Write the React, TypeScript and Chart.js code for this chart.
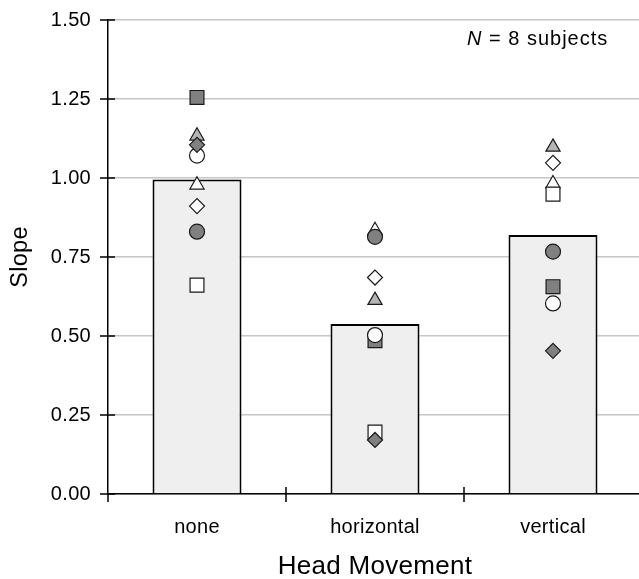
import { useEffect, useRef } from "react";
import { Chart, registerables } from "chart.js";

Chart.register(...registerables);

const categories = ["none", "horizontal", "vertical"];
const meanSlope = [0.995, 0.538, 0.82];
const yTicks = [0, 0.25, 0.5, 0.75, 1.0, 1.25, 1.5];

const subjWhiteSquare = [0.661, 0.196, 0.949];
const subjGraySquare = [1.255, 0.485, 0.656];
const subjWhiteCircle = [1.071, 0.503, 0.603];
const subjGrayCircle = [0.83, 0.814, 0.767];
const subjWhiteDiamond = [0.911, 0.685, 1.048];
const subjGrayDiamond = [1.105, 0.171, 0.453];
const subjWhiteTriangle = [0.978, 0.834, 0.982];
const subjGrayTriangle = [1.133, 0.613, 1.098];

const xTitle = "Head Movement";
const yTitle = "Slope";
const noteItalic = "N";
const noteRest = " = 8 subjects";

const FONT = '"Liberation Sans", Arial, Helvetica, sans-serif';
const SPACING = "0.3px";

function subject(data: number[], style: string, fill: string, radius: number, order: number) {
  return {
    type: "line" as const,
    data,
    showLine: false,
    pointStyle: style,
    pointRadius: radius,
    pointHoverRadius: radius,
    pointBackgroundColor: fill,
    pointBorderColor: "#1a1a1a",
    pointBorderWidth: 1.2,
    order,
  };
}

function zeroPad(s: any) {
  s.paddingTop = 0;
  s.paddingBottom = 0;
  s.paddingLeft = 0;
  s.paddingRight = 0;
}

const decor = {
  id: "decor",
  beforeUpdate(chart: any) {
    chart.ctx.letterSpacing = SPACING;
  },
  beforeDraw(chart: any) {
    chart.ctx.letterSpacing = SPACING;
  },
  afterDraw(chart: any) {
    const ctx = chart.ctx;
    const xs = chart.scales.x;
    const ys = chart.scales.y;
    const { left, bottom } = chart.chartArea;
    ctx.save();
    ctx.strokeStyle = "#000";
    ctx.lineWidth = 1.5;
    ctx.beginPath();
    yTicks.forEach((v) => {
      const py = Math.round(ys.getPixelForValue(v));
      ctx.moveTo(left - 8, py);
      ctx.lineTo(left + 7, py);
    });
    ctx.moveTo(left, bottom);
    ctx.lineTo(left, bottom + 8);
    const step = xs.getPixelForValue(1) - xs.getPixelForValue(0);
    for (let i = 1; i < categories.length; i++) {
      const px = Math.round(xs.getPixelForValue(i) - step / 2);
      ctx.moveTo(px, bottom - 7);
      ctx.lineTo(px, bottom + 8);
    }
    ctx.stroke();

    ctx.letterSpacing = "1px";
    ctx.fillStyle = "#000";
    ctx.textAlign = "left";
    ctx.textBaseline = "alphabetic";
    ctx.font = `italic 20px ${FONT}`;
    const nx = 467;
    ctx.fillText(noteItalic, nx, 45);
    const w = ctx.measureText(noteItalic).width;
    ctx.font = `20px ${FONT}`;
    ctx.fillText(noteRest, nx + w, 45);
    ctx.restore();
  },
};

export default function App() {
  const ref = useRef<HTMLCanvasElement | null>(null);

  useEffect(() => {
    if (!ref.current) return;
    Chart.defaults.font.family = FONT;
    Chart.defaults.color = "#000";
    const chart = new Chart(ref.current, {
      type: "bar",
      data: {
        labels: categories,
        datasets: [
          subject(subjGrayDiamond, "rectRot", "#808080", 7.5, 1),
          subject(subjWhiteDiamond, "rectRot", "#ffffff", 7.5, 1),
          subject(subjGrayCircle, "circle", "#808080", 7.5, 2),
          subject(subjWhiteCircle, "circle", "#ffffff", 7.5, 2),
          subject(subjGraySquare, "rect", "#808080", 9.8, 3),
          subject(subjWhiteSquare, "rect", "#ffffff", 9.8, 3),
          subject(subjGrayTriangle, "triangle", "#b4b4b4", 8.2, 4),
          subject(subjWhiteTriangle, "triangle", "#ffffff", 8.2, 4),
          {
            type: "bar" as const,
            data: meanSlope,
            backgroundColor: "#efefef",
            borderColor: "#000",
            borderWidth: 2,
            barPercentage: 0.5,
            categoryPercentage: 1.0,
            order: 10,
          } as any,
        ],
      },
      options: {
        animation: false,
        responsive: false,
        events: [],
        layout: { padding: { top: 20, right: 0, bottom: 0, left: 0 } },
        plugins: {
          legend: { display: false },
          tooltip: { enabled: false },
        },
        scales: {
          x: {
            type: "category",
            offset: true,
            grid: { display: false, drawTicks: false },
            border: { display: true, color: "#000", width: 1.5 },
            ticks: { padding: 21, font: { size: 20 }, color: "#000", maxRotation: 0 },
            title: {
              display: true,
              text: xTitle,
              font: { size: 26 },
              color: "#000",
              padding: { top: 0, bottom: -3 },
            },
            afterFit: (s: any) => {
              s.height = 85;
              zeroPad(s);
            },
          },
          y: {
            type: "linear",
            min: 0,
            max: 1.5,
            grid: { color: "#c6c6c6", lineWidth: 1.5, drawTicks: false },
            border: { display: true, color: "#000", width: 1.5 },
            afterBuildTicks: (s: any) => {
              s.ticks = yTicks.map((v) => ({ value: v }));
            },
            ticks: {
              padding: 17,
              font: { size: 20 },
              color: "#000",
              callback: (v: any) => Number(v).toFixed(2),
            },
            title: {
              display: true,
              text: yTitle,
              font: { size: 23.5 },
              color: "#000",
              padding: { top: 6, bottom: 0 },
            },
            afterFit: (s: any) => {
              s.width = 108;
              zeroPad(s);
            },
          },
        },
      },
      plugins: [decor],
    } as any);
    return () => chart.destroy();
  }, []);

  return (
    <div
      style={{
        position: "fixed",
        left: 0,
        top: 0,
        width: 639,
        height: 579,
        overflow: "hidden",
        background: "#fff",
      }}
    >
      <canvas ref={ref} width={653} height={579} style={{ display: "block" }} />
    </div>
  );
}
